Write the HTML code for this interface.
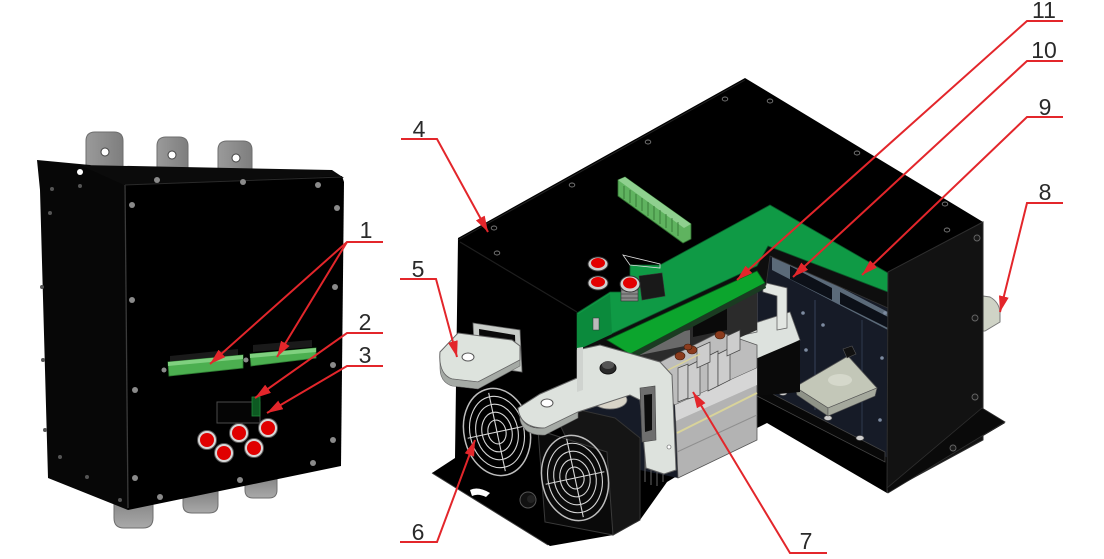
<!DOCTYPE html>
<html><head><meta charset="utf-8"><style>
html,body{margin:0;padding:0;background:#fff;}
svg{display:block;}
text{font-family:"Liberation Sans",Arial,sans-serif;font-size:23px;fill:#2a2a2a;}
</style></head><body>
<svg width="1104" height="559" viewBox="0 0 1104 559" xmlns="http://www.w3.org/2000/svg">
<defs>
<marker id="ah" markerWidth="16" markerHeight="10" refX="16" refY="5" orient="auto" markerUnits="userSpaceOnUse"><path d="M0,0 L16,5 L0,10 z" fill="#e3262b"/></marker>
<linearGradient id="tab" x1="0" x2="1" y1="0" y2="0"><stop offset="0" stop-color="#9a9a9a"/><stop offset="1" stop-color="#7e7e7e"/></linearGradient>
<linearGradient id="tabb" x1="0" x2="0" y1="0" y2="1"><stop offset="0" stop-color="#777"/><stop offset="1" stop-color="#a9a9a9"/></linearGradient>
</defs>

<!-- ================= LEFT DEVICE ================= -->
<g stroke="#6e6e6e" stroke-width="1" fill="url(#tab)">
<path d="M86,180 V141 Q86,132 95,132 H114 Q123,132 123,141 V180 Z"/>
<path d="M157,176 V146 Q157,137 166,137 H179 Q188,137 188,146 V176 Z"/>
<path d="M218,178 V150 Q218,141 227,141 H243 Q252,141 252,150 V178 Z"/>
</g>
<g fill="#fff" stroke="#444" stroke-width="1">
<circle cx="105" cy="152" r="4"/><circle cx="172" cy="155" r="4"/><circle cx="236" cy="158" r="4"/>
</g>
<g stroke="#6e6e6e" stroke-width="1" fill="url(#tabb)">
<path d="M114,490 V518 Q114,528 124,528 H143 Q153,528 153,518 V490 Z"/>
<path d="M183,485 V505 Q183,513 192,513 H209 Q218,513 218,505 V485 Z"/>
<path d="M245,470 V490 Q245,498 253,498 H269 Q277,498 277,490 V470 Z"/>
</g>
<polygon points="37,160 90,165 125,182 128,510 48,478 40,190" fill="#070707"/>
<polygon points="80,165 332,170 344,178 124,185" fill="#0b0b0b"/>
<polygon points="124,185 342,176 344,182 341,466 128,510" fill="#000"/>
<line x1="125" y1="185" x2="128" y2="508" stroke="#3a3a3a" stroke-width="1.3"/>
<line x1="125" y1="185" x2="342" y2="177" stroke="#2a2a2a" stroke-width="1"/>
<circle cx="80" cy="172" r="3" fill="#fff"/>
<g fill="#8a8a8a">
<circle cx="157" cy="180" r="3"/><circle cx="243" cy="182" r="3"/><circle cx="318" cy="185" r="3"/>
<circle cx="132" cy="205" r="3"/><circle cx="337" cy="208" r="3"/><circle cx="132" cy="300" r="3"/>
<circle cx="335" cy="287" r="3"/><circle cx="135" cy="390" r="3"/><circle cx="333" cy="365" r="3"/>
<circle cx="333" cy="440" r="3"/><circle cx="135" cy="478" r="3"/><circle cx="313" cy="463" r="3"/>
<circle cx="240" cy="480" r="3"/><circle cx="160" cy="497" r="3"/><circle cx="164" cy="370" r="2.5"/>
<circle cx="246" cy="360" r="2.5"/>
</g>
<g fill="#555">
<circle cx="52" cy="189" r="2"/><circle cx="80" cy="186" r="2"/><circle cx="42" cy="287" r="2"/>
<circle cx="43" cy="360" r="2"/><circle cx="45" cy="430" r="2"/><circle cx="60" cy="457" r="2"/>
<circle cx="87" cy="477" r="2"/><circle cx="120" cy="500" r="2"/><circle cx="50" cy="213" r="2"/>
</g>
<polygon points="170,356 238,349 238,356 170,363" fill="#1a1a1a"/>
<polygon points="168,362 243,355 243,368 169,376" fill="#4caf50" stroke="#2e7d32" stroke-width="0.8"/>
<polygon points="168,362 243,355 243,359 168,366" fill="#7fd07f"/>
<polygon points="253,345 312,340 312,347 253,352" fill="#1a1a1a"/>
<polygon points="250,354 316,348 316,358 251,366" fill="#4caf50" stroke="#2e7d32" stroke-width="0.8"/>
<polygon points="250,354 316,348 316,352 250,358" fill="#7fd07f"/>
<rect x="217" y="402" width="43" height="21" fill="#050505" stroke="#4a4a4a" stroke-width="1"/>
<rect x="252" y="397" width="8" height="19" fill="#0d5a22" stroke="#1f8a3a" stroke-width="0.8"/>
<g>
<circle cx="207" cy="440" r="9.5" fill="#d8d8d8" stroke="#555"/><circle cx="207" cy="440" r="7" fill="#e00000"/>
<circle cx="239" cy="433" r="9.5" fill="#d8d8d8" stroke="#555"/><circle cx="239" cy="433" r="7" fill="#e00000"/>
<circle cx="268" cy="428" r="9.5" fill="#d8d8d8" stroke="#555"/><circle cx="268" cy="428" r="7" fill="#e00000"/>
<circle cx="224" cy="453" r="9.5" fill="#d8d8d8" stroke="#555"/><circle cx="224" cy="453" r="7" fill="#e00000"/>
<circle cx="254" cy="448" r="9.5" fill="#d8d8d8" stroke="#555"/><circle cx="254" cy="448" r="7" fill="#e00000"/>
</g>

<!-- ================= RIGHT DEVICE ================= -->
<path d="M983,296 L990,297 Q999,302 1000,312 L1000,322 L985,331 L983,331 Z" fill="#cfd3c6" stroke="#777" stroke-width="1"/>
<polygon points="458,238 745,78 983,222 983,410 1005,423 887,493 767,423 757,428 667,482 640,520 613,535 550,546 432,473 455,458" fill="#000"/>
<line x1="460" y1="242" x2="577" y2="312" stroke="#1e1e1e" stroke-width="1.2"/>
<line x1="458" y1="240" x2="745" y2="80" stroke="#222" stroke-width="1"/>
<g fill="none" stroke="#7a7a7a" stroke-width="0.9">
<ellipse cx="494" cy="228" rx="2.8" ry="2"/><ellipse cx="497" cy="253" rx="2.8" ry="2"/>
<ellipse cx="572" cy="185" rx="2.8" ry="2"/><ellipse cx="648" cy="142" rx="2.8" ry="2"/>
<ellipse cx="725" cy="99" rx="2.8" ry="2"/><ellipse cx="770" cy="101" rx="2.8" ry="2"/>
<ellipse cx="857" cy="153" rx="2.8" ry="2"/><ellipse cx="945" cy="204" rx="2.8" ry="2"/>
<ellipse cx="947" cy="230" rx="2.8" ry="2"/>
</g>
<polygon points="618,180 625,177 691,224 691,239 683,243 618,196" fill="#5fb35f" stroke="#2f6f2f" stroke-width="0.8"/>
<polygon points="618,180 625,177 691,224 684,228" fill="#8fd08f"/>
<g stroke="#2f6f2f" stroke-width="0.8">
<line x1="624" y1="186" x2="624" y2="199"/><line x1="630" y1="190" x2="630" y2="203"/><line x1="636" y1="194" x2="636" y2="207"/>
<line x1="642" y1="198" x2="642" y2="211"/><line x1="648" y1="202" x2="648" y2="216"/><line x1="654" y1="206" x2="654" y2="220"/>
<line x1="660" y1="210" x2="660" y2="224"/><line x1="666" y1="214" x2="666" y2="228"/><line x1="672" y1="218" x2="672" y2="232"/>
<line x1="678" y1="222" x2="678" y2="236"/>
</g>

<!-- cavity -->
<polygon points="577,345 770,245 888,303 888,458 757,390 757,440 678,478 640,470 583,440 577,440" fill="#161b27"/>
<polygon points="772,252 888,312 888,330 772,270" fill="#5b6a79"/>
<polygon points="790,266 832,288 832,300 790,279" fill="#0c1018"/>
<polygon points="840,292 888,317 888,328 840,304" fill="#0c1018"/>
<line x1="815" y1="300" x2="815" y2="410" stroke="#2c3548" stroke-width="1.5"/>
<line x1="862" y1="320" x2="862" y2="440" stroke="#2c3548" stroke-width="1.2"/>
<g fill="#7d8ba0">
<circle cx="803" cy="313" r="1.8"/><circle cx="823" cy="325" r="1.8"/><circle cx="885" cy="313" r="1.8"/>
<circle cx="882" cy="358" r="1.8"/><circle cx="820" cy="378" r="1.8"/><circle cx="880" cy="420" r="1.8"/>
<circle cx="806" cy="350" r="1.8"/>
</g>
<polygon points="757,386 885,452 885,462 757,396" fill="#080808" stroke="#444" stroke-width="0.8"/>
<g fill="#cfcfcf" stroke="#444" stroke-width="0.6">
<ellipse cx="783" cy="393" rx="4" ry="2.5"/><ellipse cx="828" cy="418" rx="4" ry="2.5"/><ellipse cx="860" cy="438" rx="4" ry="2.5"/>
</g>
<polygon points="795,387 848,356 877,388 828,408" fill="#c3c7b8" stroke="#555" stroke-width="0.8"/>
<polygon points="795,387 828,408 828,416 797,395" fill="#8f9388" stroke="#555" stroke-width="0.6"/>
<polygon points="828,408 877,388 875,396 828,416" fill="#a5a99d" stroke="#555" stroke-width="0.6"/>
<ellipse cx="840" cy="380" rx="12" ry="6" fill="#d9dccf" opacity="0.8"/>
<polygon points="843,349 852,346 856,354 847,358" fill="#111" stroke="#555" stroke-width="0.6"/>
<polygon points="733,330 790,312 800,340 757,362 733,348" fill="#dde2de" stroke="#666" stroke-width="0.8"/>
<polygon points="757,362 800,340 800,346 757,368" fill="#a9aea9"/>
<path d="M742,293 L757,290 L757,332 L743,335 Z" fill="#dfe3df" stroke="#666" stroke-width="0.8"/>
<path d="M762,282 L787,288 L787,328 L777,330 L777,296 L763,292 Z" fill="#e2e6e2" stroke="#666" stroke-width="0.8"/>
<polygon points="753,360 800,340 800,392 757,396" fill="#0a0a0a"/>
<polygon points="733,348 757,362 757,368 735,355" fill="#b9beb9"/>

<polygon points="630,300 757,285 757,330 700,355 650,365 630,355" fill="#2b2b2b"/>
<polygon points="693,300 727,292 727,330 693,337" fill="#0a0a0a"/>
<polygon points="640,340 690,330 690,345 640,355" fill="#6a6a6a"/>
<polygon points="660,362 720,332 757,345 757,368 675,405 660,395" fill="#bdbdbd" stroke="#555" stroke-width="0.8"/>
<polygon points="675,405 757,368 757,440 678,478" fill="#b3b3b3" stroke="#555" stroke-width="0.8"/>
<polygon points="675,405 757,368 757,385 676,421" fill="#d6d6d6"/>
<line x1="677" y1="433" x2="757" y2="393" stroke="#d9d39a" stroke-width="2"/>
<line x1="677" y1="452" x2="757" y2="415" stroke="#8f8f8f" stroke-width="1"/>
<g fill="#cdcdcd" stroke="#444" stroke-width="0.7">
<polygon points="678,368 688,364 688,398 678,402"/>
<polygon points="688,366 700,360 700,395 688,399"/>
<polygon points="708,356 718,351 718,386 708,391"/>
<polygon points="718,354 730,348 730,380 718,386"/>
<polygon points="697,348 710,342 710,362 697,368"/>
<polygon points="727,336 740,330 740,350 727,356"/>
</g>
<g fill="#8b3c1e" stroke="#3b1a0a" stroke-width="0.6">
<ellipse cx="680" cy="356" rx="5" ry="4"/><ellipse cx="692" cy="350" rx="5" ry="4"/>
<ellipse cx="720" cy="335" rx="5" ry="4"/><ellipse cx="688" cy="347" rx="4" ry="3"/>
</g>
<line x1="660" y1="374" x2="700" y2="354" stroke="#d9d39a" stroke-width="1.5"/>
<g stroke="#555" stroke-width="1.2">
<line x1="645" y1="455" x2="645" y2="482"/><line x1="651" y1="458" x2="651" y2="485"/>
<line x1="657" y1="460" x2="657" y2="486"/><line x1="663" y1="462" x2="663" y2="482"/>
</g>

<!-- frame + green board -->
<polygon points="577,346 757,263 768,244 888,290 888,308 770,256 766,285 630,358 578,360" fill="#0e0e0e" stroke="#333" stroke-width="0.8"/>
<polygon points="770,205 888,273 888,292 768,246 757,266 577,350 577,313 610,292 630,292 630,265 660,265" fill="#0f9a45" stroke="#0a5a2a" stroke-width="0.8"/>
<polygon points="577,315 610,294 612,334 577,350" fill="#0b8a3c"/>
<polygon points="623,255 660,264 660,268 630,265" fill="none" stroke="#ddd" stroke-width="0.8"/>
<polygon points="639,276 662,273 665,296 642,300" fill="#191919" stroke="#333" stroke-width="0.6"/>
<polygon points="607,340 757,271 765,283 630,354" fill="#0ca52d" stroke="#06601a" stroke-width="0.8"/>
<polygon points="630,354 765,283 766,288 632,359" fill="#1b3b22"/>
<ellipse cx="598" cy="264" rx="10" ry="7" fill="#cfcfcf" stroke="#333"/><ellipse cx="598" cy="263" rx="7" ry="5" fill="#e30000"/>
<ellipse cx="598" cy="283" rx="10" ry="7" fill="#cfcfcf" stroke="#333"/><ellipse cx="598" cy="282" rx="7" ry="5" fill="#e30000"/>
<rect x="621" y="285" width="17" height="16" fill="#8a8a8a" stroke="#333" stroke-width="0.6"/>
<g stroke="#444" stroke-width="0.8"><line x1="621" y1="290" x2="638" y2="290"/><line x1="621" y1="294" x2="638" y2="294"/><line x1="621" y1="298" x2="638" y2="298"/></g>
<ellipse cx="630" cy="284" rx="10" ry="8" fill="#cfcfcf" stroke="#333"/><ellipse cx="630" cy="283" rx="7" ry="5.5" fill="#e30000"/>
<rect x="593" y="318" width="6" height="12" fill="#bbb" stroke="#333" stroke-width="0.5"/>

<!-- terminal 5 -->
<polygon points="473,323 520,330 522,372 475,365" fill="#c8ccc8" stroke="#666" stroke-width="0.8"/>
<polygon points="479,329 515,335 516,366 480,360" fill="#0a0a0a"/>
<path d="M440,352 L458,333 L512,340 L520,346 L520,360 L478,382 L452,379 Q438,374 440,352 Z" fill="#dde3dd" stroke="#666" stroke-width="1"/>
<path d="M440,362 Q442,376 452,379 L478,382 L520,360 L520,366 L478,389 L452,386 Q440,382 440,368 Z" fill="#a5aaa5" stroke="#666" stroke-width="0.6"/>
<ellipse cx="468" cy="357" rx="6" ry="4" fill="#fff" stroke="#555"/>

<!-- fan 1 -->
<g transform="translate(497,432) rotate(-12)" fill="none" stroke="#d6d6d6" stroke-width="1.1">
<ellipse rx="33" ry="44" stroke="#bdbdbd" stroke-width="1.5"/>
<ellipse rx="27" ry="36"/><ellipse rx="21" ry="28"/><ellipse rx="15" ry="20"/><ellipse rx="9" ry="12"/>
<line x1="-30" y1="0" x2="30" y2="0"/><line x1="0" y1="-40" x2="0" y2="40"/>
</g>
<!-- fan 2 -->
<polygon points="560,425 580,410 615,418 640,438 640,520 613,535" fill="#151515" stroke="#333" stroke-width="1"/>
<polygon points="538,430 607,452 613,535 545,522" fill="#0a0a0a" stroke="#3a3a3a" stroke-width="1"/>
<g transform="translate(575,478) rotate(-12)" fill="none" stroke="#d6d6d6" stroke-width="1.1">
<ellipse rx="33" ry="43" stroke="#bdbdbd" stroke-width="1.5"/>
<ellipse rx="27" ry="35"/><ellipse rx="21" ry="27"/><ellipse rx="15" ry="19"/><ellipse rx="9" ry="11"/>
<line x1="-30" y1="0" x2="30" y2="0"/><line x1="0" y1="-40" x2="0" y2="40"/>
</g>
<ellipse cx="528" cy="500" rx="8" ry="8" fill="#111" stroke="#555"/>
<ellipse cx="531" cy="499" rx="4" ry="4" fill="#222"/>

<ellipse cx="610" cy="400" rx="17" ry="9" fill="#d8d4c8" stroke="#777" stroke-width="0.8"/>
<path d="M518,408 L540,394 L577,378 L577,350 L600,345 L625,352 L660,362 L672,375 L676,470 L664,474 L646,468 L640,400 L630,395 L578,412 L545,428 Q520,428 518,408 Z" fill="#dde2dd" stroke="#666" stroke-width="1"/>
<path d="M520,416 Q526,430 545,428 L578,412 L578,418 L545,435 Q524,436 520,420 Z" fill="#a5aaa5" stroke="#666" stroke-width="0.6"/>
<polygon points="640,388 655,386 656,440 642,442" fill="#6e6e6e" stroke="#444" stroke-width="0.6"/>
<polygon points="644,395 652,394 652,430 645,432" fill="#0c0c0c"/>
<polygon points="577,348 583,347 583,390 577,392" fill="#cfd3cf"/>
<ellipse cx="547" cy="403" rx="6" ry="4" fill="#fff" stroke="#555"/>
<ellipse cx="608" cy="368" rx="8" ry="6" fill="#2a2a2a" stroke="#111"/>
<ellipse cx="608" cy="365" rx="6" ry="4" fill="#555"/>
<circle cx="669" cy="447" r="2" fill="#fff" stroke="#555" stroke-width="0.6"/>

<line x1="432" y1="473" x2="548" y2="545" stroke="#3a3a3a" stroke-width="1"/>
<path d="M470,490 Q478,486 490,493 L486,497 Q478,493 472,496 Z" fill="#fff"/>

<!-- right panel -->
<polygon points="888,272 983,222 983,440 887,492" fill="#121212" stroke="#2e2e2e" stroke-width="1"/>
<polygon points="982,408 1005,422 888,493 887,488" fill="#0a0a0a" stroke="#2e2e2e" stroke-width="0.8"/>
<g fill="#1a1a1a" stroke="#666" stroke-width="0.9">
<circle cx="975" cy="318" r="3"/><circle cx="975" cy="397" r="3"/><circle cx="953" cy="448" r="3"/><circle cx="977" cy="238" r="3"/>
</g>

<!-- ================= CALLOUTS ================= -->
<g stroke="#e3262b" stroke-width="2" fill="none">
<polyline points="383,242 347,242 210,364" marker-end="url(#ah)"/>
<polyline points="347,242 277,357" marker-end="url(#ah)"/>
<polyline points="383,333 347,333 255,398" marker-end="url(#ah)"/>
<polyline points="383,366 347,366 267,413" marker-end="url(#ah)"/>
<polyline points="401,139 437,139 488,232" marker-end="url(#ah)"/>
<polyline points="400,279 436,279 457,357" marker-end="url(#ah)"/>
<polyline points="400,542 437,542 475,440" marker-end="url(#ah)"/>
<polyline points="827,553 790,553 693,392" marker-end="url(#ah)"/>
<polyline points="1063,203 1027,203 1000,312" marker-end="url(#ah)"/>
<polyline points="1063,117 1027,117 862,275" marker-end="url(#ah)"/>
<polyline points="1063,61 1027,61 793,277" marker-end="url(#ah)"/>
<polyline points="1063,21 1027,21 737,280" marker-end="url(#ah)"/>
</g>
<g text-anchor="middle">
<text x="366" y="238">1</text>
<text x="365" y="330">2</text>
<text x="365" y="363">3</text>
<text x="419" y="137">4</text>
<text x="418" y="277">5</text>
<text x="418" y="540">6</text>
<text x="806" y="549">7</text>
<text x="1045" y="200">8</text>
<text x="1045" y="115">9</text>
<text x="1044" y="58">10</text>
<text x="1044" y="18">11</text>
</g>
</svg>
</body></html>
